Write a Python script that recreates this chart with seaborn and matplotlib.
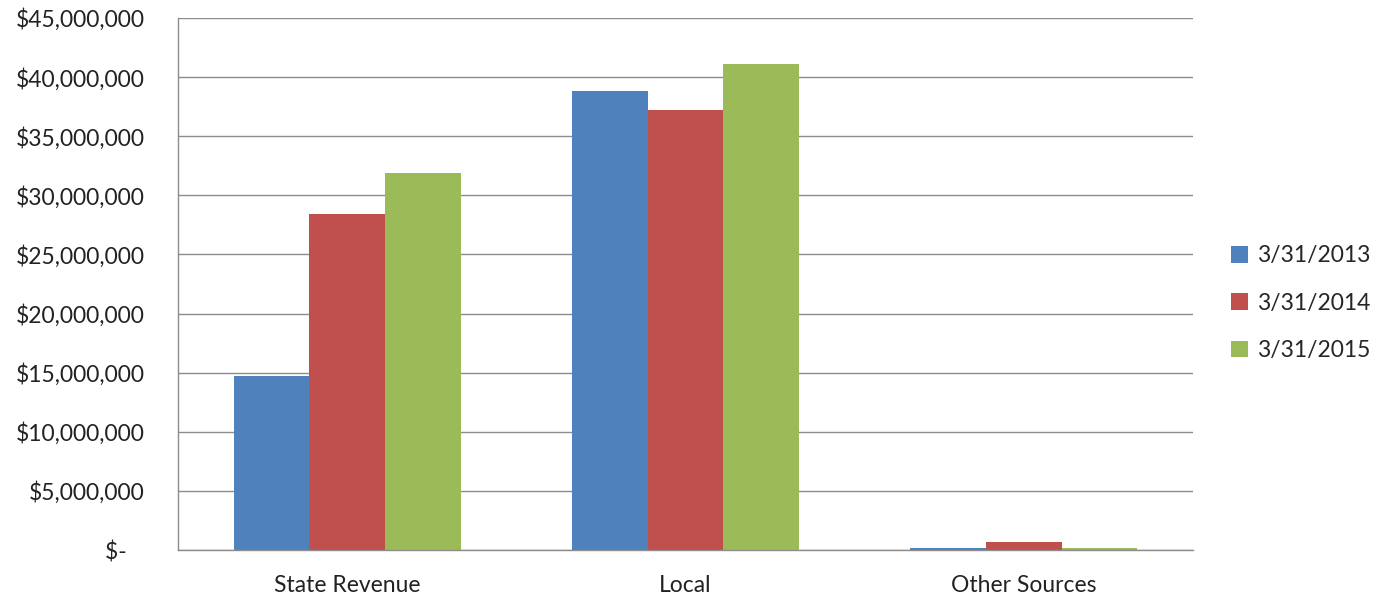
import matplotlib
matplotlib.use('Agg')
import matplotlib.pyplot as plt
import matplotlib.ticker as mticker
import seaborn as sns
import pandas as pd

categories = ['State Revenue', 'Local', 'Other Sources']
dates = ['3/31/2013', '3/31/2014', '3/31/2015']
values_2013 = [14720000, 38820000, 150000]
values_2014 = [28420000, 37220000, 680000]
values_2015 = [31890000, 41110000, 150000]
colors = ['#4F81BD', '#C0504D', '#9BBB59']

rows = []
for d, vals in zip(dates, [values_2013, values_2014, values_2015]):
    for c, v in zip(categories, vals):
        rows.append({'category': c, 'date': d, 'value': v})
df = pd.DataFrame(rows)

sns.set_style('white')
plt.rcParams['font.family'] = ['Lato', 'DejaVu Sans']

fig = plt.figure(figsize=(13.89, 5.97), dpi=100)
ax = fig.add_axes([178 / 1389, 47 / 597, (1193 - 178) / 1389, (550 - 18) / 597])

sns.barplot(data=df, x='category', y='value', hue='date', palette=colors,
            width=0.67, gap=0, saturation=1, ax=ax, errorbar=None,
            linewidth=0)

ax.set_ylim(0, 45000000)
ax.set_xlim(-0.5, 2.5)
ax.yaxis.set_major_locator(mticker.MultipleLocator(5000000))


def money(v, pos):
    if v == 0:
        return '$-   '
    return '${:,.0f}'.format(v)


ax.yaxis.set_major_formatter(mticker.FuncFormatter(money))
ax.grid(axis='y', color='#8c8c8c', linewidth=1)
ax.set_axisbelow(True)
for s in ['top', 'right']:
    ax.spines[s].set_visible(False)
for s in ['left', 'bottom']:
    ax.spines[s].set_color('#8c8c8c')
    ax.spines[s].set_linewidth(1)
ax.tick_params(axis='y', length=0, labelsize=16.5, colors='#222222', pad=24)
ax.tick_params(axis='x', length=0, labelsize=16.5, colors='#222222', pad=18)
ax.set_xlabel('')
ax.set_ylabel('')

ax.legend(loc='center left', bbox_to_anchor=(1.017, 0.464), frameon=False,
          fontsize=16.5, handlelength=0.75, handleheight=0.75, labelspacing=1.15,
          handletextpad=0.4, title=None)

fig.savefig('out.png', dpi=100)
